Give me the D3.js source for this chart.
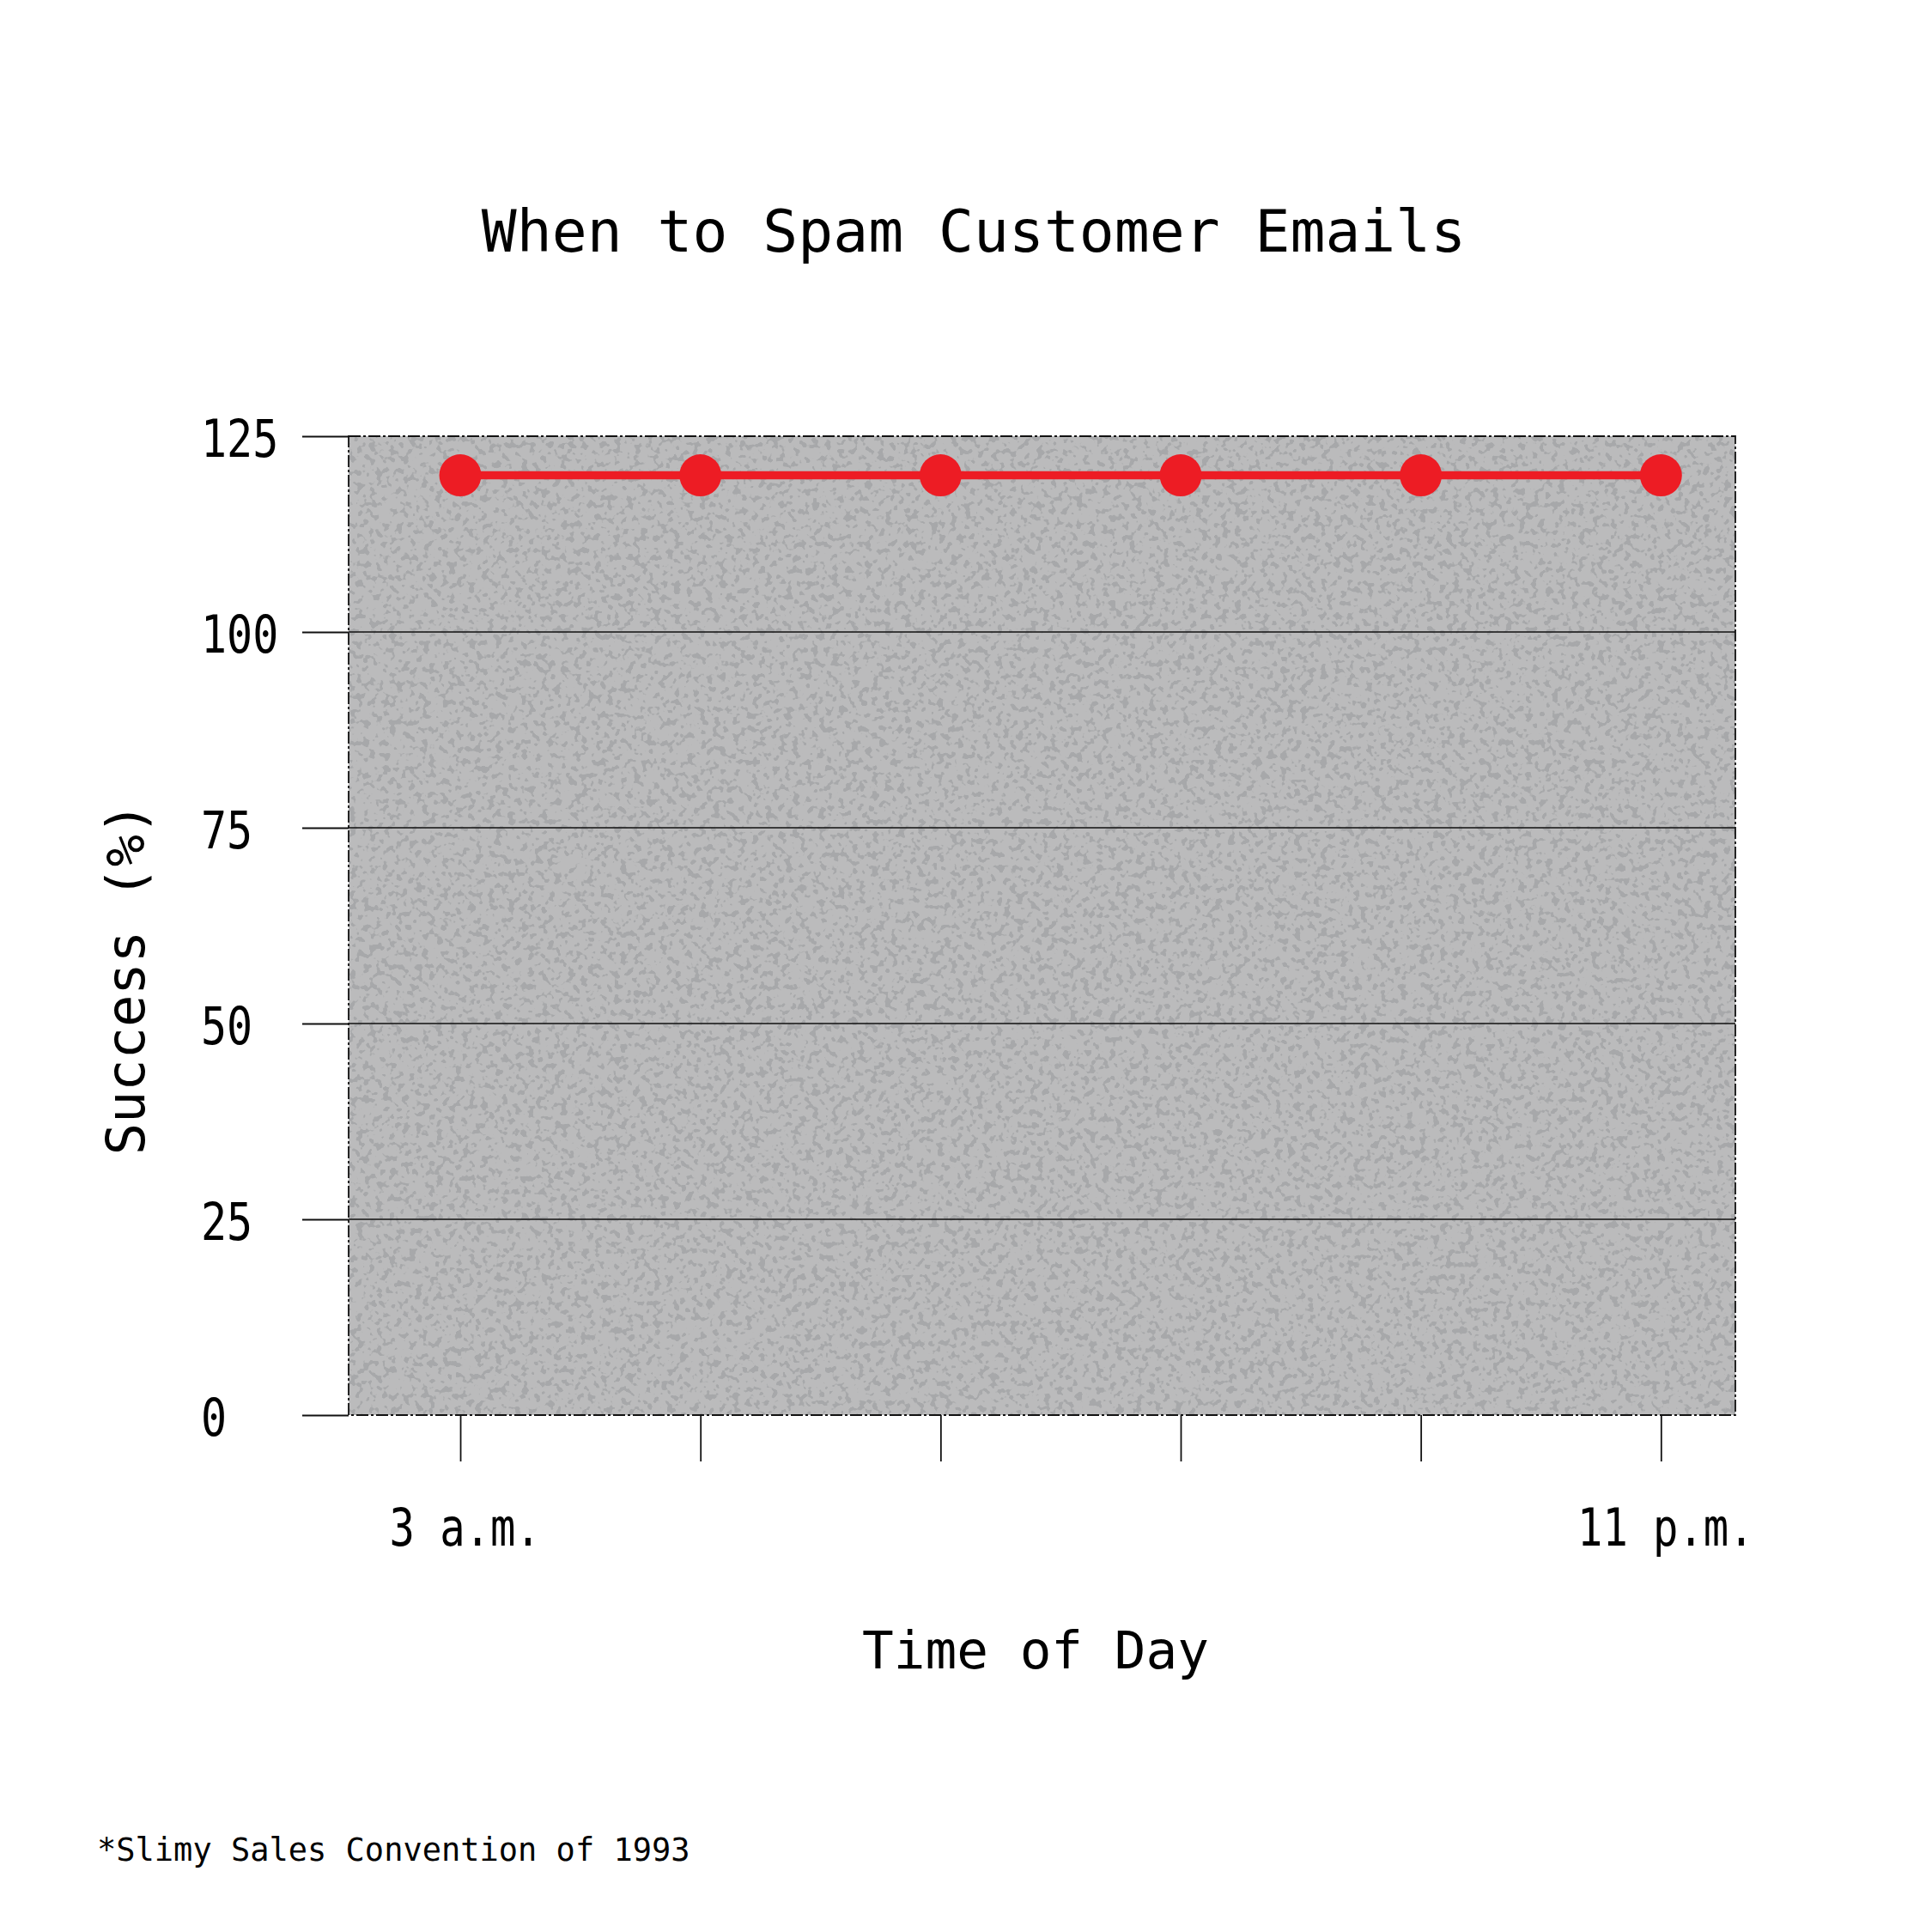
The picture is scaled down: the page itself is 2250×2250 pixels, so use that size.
<!DOCTYPE html>
<html>
<head>
<meta charset="utf-8">
<script src="https://cdn.jsdelivr.net/npm/d3@7"></script>
<style>
  html, body { margin: 0; padding: 0; background: #fff; }
  svg { display: block; }
  text { font-family: "DejaVu Sans Mono", "Liberation Mono", monospace; fill: #000; }
</style>
</head>
<body>
<div id="chart"></div>
<script>
// data
const hours = [3, 7, 11, 15, 19, 23];
const success = [120, 120, 120, 120, 120, 120];
const hourLabels = ['3 a.m.', '', '', '', '', '11 p.m.'];
const yTicks = [0, 25, 50, 75, 100, 125];
const titleText = 'When to Spam Customer Emails';
const xTitle = 'Time of Day';
const yTitle = 'Success (%)';
const footnote = '*Slimy Sales Convention of 1993';

const W = 2250, H = 2250;
const plot = { left: 406, top: 508, right: 2021, bottom: 1648 };

const svg = d3.select('#chart').append('svg')
  .attr('width', W).attr('height', H)
  .attr('viewBox', `0 0 ${W} ${H}`);

// grainy gray panel texture
const defs = svg.append('defs');
const grain = defs.append('filter').attr('id', 'grain')
  .attr('x', 0).attr('y', 0).attr('width', 1).attr('height', 1)
  .attr('color-interpolation-filters', 'sRGB');
grain.append('feTurbulence')
  .attr('type', 'fractalNoise').attr('baseFrequency', 0.13)
  .attr('numOctaves', 2).attr('seed', 7).attr('result', 'noise');
grain.append('feColorMatrix').attr('in', 'noise').attr('type', 'matrix')
  .attr('values', '0 0 0 0 0.655  0 0 0 0 0.66  0 0 0 0 0.665  16 0 0 0 -8.9')
  .attr('result', 'spots');
grain.append('feComposite').attr('in', 'spots').attr('in2', 'SourceGraphic').attr('operator', 'over');

const x = d3.scaleLinear().domain([1.14, 24.24]).range([plot.left, plot.right]);
const y = d3.scaleLinear().domain([0, 125]).range([plot.bottom, plot.top]);

svg.append('rect')
  .attr('x', plot.left).attr('y', plot.top)
  .attr('width', plot.right - plot.left).attr('height', plot.bottom - plot.top)
  .attr('fill', '#bbbbbc')
  .attr('filter', 'url(#grain)');

// gridlines
svg.append('g')
  .selectAll('line')
  .data(yTicks.filter(d => d > 0 && d < 125))
  .join('line')
  .attr('x1', plot.left).attr('x2', plot.right)
  .attr('y1', d => y(d)).attr('y2', d => y(d))
  .attr('stroke', '#111').attr('stroke-width', 1.6);

// dash-dot frame
svg.append('rect')
  .attr('x', plot.left).attr('y', plot.top)
  .attr('width', plot.right - plot.left).attr('height', plot.bottom - plot.top)
  .attr('fill', 'none')
  .attr('stroke', '#111').attr('stroke-width', 1.8)
  .attr('stroke-dasharray', '14,3,3,3');

// y axis
const yAxis = svg.append('g')
  .attr('transform', `translate(${plot.left},0)`)
  .call(d3.axisLeft(y).tickValues(yTicks).tickSize(54).tickPadding(0));
yAxis.select('.domain').remove();
yAxis.selectAll('.tick line').attr('stroke', '#111').attr('stroke-width', 1.8);
yAxis.selectAll('.tick text')
  .attr('x', null).attr('dy', null)
  .attr('text-anchor', 'start')
  .attr('dominant-baseline', 'central')
  .attr('transform', 'translate(-172,2) scale(0.82,1)')
  .style('font-size', '61px')
  .style('font-family', '"DejaVu Sans Mono", monospace');

// x axis
const xAxis = svg.append('g')
  .attr('transform', `translate(0,${plot.bottom})`)
  .call(d3.axisBottom(x).tickValues(hours).tickSize(54).tickPadding(0)
    .tickFormat((d, i) => hourLabels[i]));
xAxis.select('.domain').remove();
xAxis.selectAll('.tick line').attr('stroke', '#111').attr('stroke-width', 1.8);
xAxis.selectAll('.tick text')
  .attr('y', null).attr('dy', null)
  .attr('text-anchor', 'middle')
  .attr('transform', 'translate(5,152) scale(0.8,1)')
  .style('font-size', '61px')
  .style('font-family', '"DejaVu Sans Mono", monospace');

// series
const pts = hours.map((h, i) => [h, success[i]]);
svg.append('path')
  .datum(pts)
  .attr('fill', 'none')
  .attr('stroke', '#ed1c24').attr('stroke-width', 9.5)
  .attr('d', d3.line().x(d => x(d[0])).y(d => y(d[1])));
svg.append('g')
  .selectAll('circle')
  .data(pts)
  .join('circle')
  .attr('cx', d => x(d[0])).attr('cy', d => y(d[1]))
  .attr('r', 24.5)
  .attr('fill', '#ed1c24');

// titles
svg.append('text')
  .attr('x', 1134).attr('y', 293)
  .attr('text-anchor', 'middle')
  .style('font-size', '68px')
  .text(titleText);

svg.append('text')
  .attr('x', 1206).attr('y', 1943)
  .attr('text-anchor', 'middle')
  .style('font-size', '61px')
  .text(xTitle);

svg.append('text')
  .attr('transform', 'translate(168,1140) rotate(-90)')
  .attr('text-anchor', 'middle')
  .style('font-size', '62px')
  .text(yTitle);

svg.append('text')
  .attr('x', 113).attr('y', 2167)
  .style('font-size', '37px')
  .text(footnote);
</script>
</body>
</html>
